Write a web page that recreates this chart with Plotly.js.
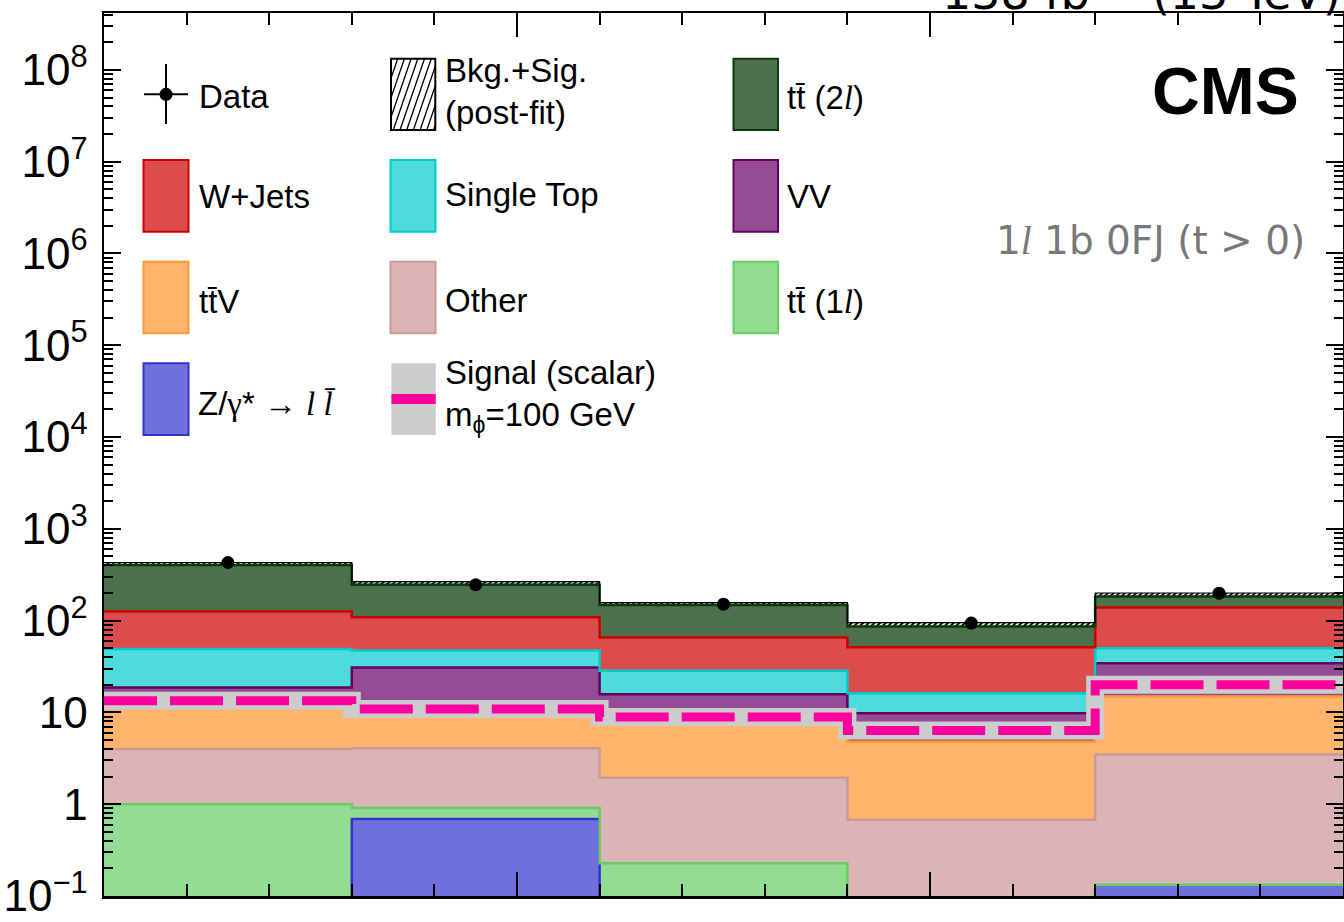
<!DOCTYPE html>
<html><head><meta charset="utf-8">
<script src="https://cdn.plot.ly/plotly-3.0.1.min.js"></script>
<style>html,body{margin:0;padding:0;background:#fff;} #chart{width:1344px;height:922px;}</style>
</head><body><div id="chart"></div>
<script>
// ---- data ----
const binEdges   = [0, 1, 2, 3, 4, 5];
const binCenters = [0.5, 1.5, 2.5, 3.5, 4.5];
const dataObs    = [430, 246, 151, 94, 199];
const dataErr    = [21, 16, 12, 10, 14];
const zGamma     = [0, 0.69, 0, 0, 0.133];
const ttbar1l    = [1.0, 0.22, 0.228, 0, 0];
const other      = [3.0, 3.17, 1.72, 0.676, 3.35];
const ttV        = [7.0, 5.42, 5.55, 4.12, 11.4];
const vv         = [7.7, 21.3, 8.3, 5.0, 19.5];
const singleTop  = [30.3, 16.4, 12.6, 6.4, 15.7];
const wJets      = [77, 61.8, 37.1, 35.2, 88.9];
const ttbar2l    = [279, 137, 82.5, 34.9, 44];
const bkgSigTop  = [430, 266, 157, 95, 200];
const signal     = [13.4, 10.9, 8.9, 6.35, 20];
const yTickVals  = [0.1, 1, 10, 100, 1e3, 1e4, 1e5, 1e6, 1e7, 1e8];
const yTickText  = ['10<sup>\u22121</sup>', '1', '10', '10<sup>2</sup>', '10<sup>3</sup>', '10<sup>4</sup>',
                    '10<sup>5</sup>', '10<sup>6</sup>', '10<sup>7</sup>', '10<sup>8</sup>'];

// ---- styles ----
const stack = [
  {vals: zGamma,    fill: '#7070dc', line: '#3333cc'},
  {vals: ttbar1l,   fill: '#94dc94', line: '#66cc66'},
  {vals: other,     fill: '#dbb5b5', line: '#cc9999'},
  {vals: ttV,       fill: '#ffb46b', line: '#ff9933'},
  {vals: vv,        fill: '#944c94', line: '#660066'},
  {vals: singleTop, fill: '#4ddbdb', line: '#00cccc'},
  {vals: wJets,     fill: '#dd4c4c', line: '#cc0000'},
  {vals: ttbar2l,   fill: '#4d714d', line: '#0b3b0b'}
];
const FLOOR = 1e-3;
const step = arr => { const a = arr.map(v => Math.max(v, FLOOR)); a.push(a[a.length - 1]); return a; };

const traces = [];
traces.push({x: binEdges, y: step([0,0,0,0,0]), mode: 'lines', line: {width: 0, shape: 'hv'}, hoverinfo: 'skip'});
let cum = [0, 0, 0, 0, 0];
stack.forEach(s => {
  cum = cum.map((c, i) => c + s.vals[i]);
  traces.push({x: binEdges, y: step(cum), mode: 'lines', fill: 'tonexty', fillcolor: s.fill,
               line: {color: s.line, width: 2.5, shape: 'hv'}, hoverinfo: 'skip'});
});
traces.push({x: binEdges, y: step(bkgSigTop), mode: 'lines', fill: 'tonexty',
             fillpattern: {shape: '/', fgcolor: '#000', bgcolor: '#fff', size: 4, solidity: 0.5},
             line: {color: '#000', width: 1.2, shape: 'hv'}, hoverinfo: 'skip'});
traces.push({x: binEdges, y: step(signal), mode: 'lines', line: {color: '#cccccc', width: 18, shape: 'hv'}, hoverinfo: 'skip'});
traces.push({x: binEdges, y: step(signal), mode: 'lines', line: {color: '#ff00a0', width: 9, shape: 'hv', dash: '53px,13px'}, hoverinfo: 'skip'});
traces.push({x: binCenters, y: dataObs, mode: 'markers', marker: {color: '#000', size: 13},
             error_y: {type: 'data', array: dataErr, color: '#000', thickness: 2, width: 0}});

// minor y ticks
const minorVals = [];
for (let d = -1; d <= 8; d++) for (let k = 2; k <= 9; k++) minorVals.push(k * Math.pow(10, d));

// ---- pixel -> paper helpers (legend decoration) ----
const PL = 104, PR = 1343, PT = 13, PB = 896;
const px = x => (x - PL) / (PR - PL);
const py = y => (PB - y) / (PB - PT);
const rect = (x0, y0, x1, y1, fill, line, lw) => ({type: 'rect', xref: 'paper', yref: 'paper',
  x0: px(x0), x1: px(x1), y0: py(y1), y1: py(y0), fillcolor: fill,
  line: {color: line || fill, width: line ? (lw || 2) : 0}});
const seg = (x0, y0, x1, y1, w) => ({type: 'line', xref: 'paper', yref: 'paper',
  x0: px(x0), x1: px(x1), y0: py(y0), y1: py(y1), line: {color: '#000', width: w || 2}});

const shapes = [];
// Data glyph
shapes.push(seg(144, 94.3, 188, 94.3), seg(166, 64, 166, 124));
shapes.push({type: 'circle', xref: 'paper', yref: 'paper', x0: px(159.5), x1: px(172.5), y0: py(100.8), y1: py(87.8),
             fillcolor: '#000', line: {color: '#000', width: 0}});
// hatch glyph
shapes.push(rect(391, 58.7, 435.3, 130, '#fff', '#000', 2));
(function () {
  const L0 = 391, R0 = 435.3, T0 = 58.7, B0 = 130, DX = 24.5;
  let p = '';
  for (let x0 = L0 - DX; x0 < R0; x0 += 6.7) {
    const t0 = Math.max(0, (L0 - x0) / DX), t1 = Math.min(1, (R0 - x0) / DX);
    if (t1 <= t0) continue;
    const xa = x0 + DX * t0, ya = B0 - (B0 - T0) * t0, xb = x0 + DX * t1, yb = B0 - (B0 - T0) * t1;
    p += `M${px(xa)},${py(ya)} L${px(xb)},${py(yb)} `;
  }
  shapes.push({type: 'path', xref: 'paper', yref: 'paper', path: p, line: {color: '#000', width: 1.3}});
})();
// colour boxes
const C1 = [143.5, 188.5], C2 = [390.5, 435.5], C3 = [733.5, 778];
const R2 = [160, 231.7], R3 = [261.7, 333.3], R4 = [363.3, 435], R1 = [58.7, 130];
shapes.push(rect(C3[0], R1[0], C3[1], R1[1], '#4d714d', '#0b3b0b'));
shapes.push(rect(C1[0], R2[0], C1[1], R2[1], '#dd4c4c', '#cc0000'));
shapes.push(rect(C2[0], R2[0], C2[1], R2[1], '#4ddbdb', '#00cccc'));
shapes.push(rect(C3[0], R2[0], C3[1], R2[1], '#944c94', '#660066'));
shapes.push(rect(C1[0], R3[0], C1[1], R3[1], '#ffb46b', '#ff9933'));
shapes.push(rect(C2[0], R3[0], C2[1], R3[1], '#dbb5b5', '#cc9999'));
shapes.push(rect(C3[0], R3[0], C3[1], R3[1], '#94dc94', '#66cc66'));
shapes.push(rect(C1[0], R4[0], C1[1], R4[1], '#7070dc', '#3333cc'));
shapes.push(rect(391.4, 363.3, 435.7, 435, '#cccccc'));
shapes.push(rect(391.4, 394, 435.7, 404, '#ff00a0'));

const F = 'Liberation Sans, Arial, sans-serif';
const SERIF = '<span style="font-family:Liberation Serif">';
const ann = (x, y, text, size, opts) => Object.assign({xref: 'paper', yref: 'paper', x: px(x), y: py(y), text: text,
  showarrow: false, xanchor: 'left', yanchor: 'middle', font: {family: F, size: size || 33, color: '#000'}}, opts || {});
const tt = 'tt\u0304';
const annotations = [
  ann(197, 96, 'Data'),
  ann(443, 71, 'Bkg.+Sig.'),
  ann(443, 112, '(post-fit)'),
  ann(785, 97, tt + ' (2' + SERIF + '<i>l</i></span>)'),
  ann(196.5, 196, 'W+Jets'),
  ann(443, 194, 'Single Top'),
  ann(785, 197, 'VV'),
  ann(196.5, 302, tt + 'V'),
  ann(443, 301, 'Other'),
  ann(785, 302, tt + ' (1' + SERIF + '<i>l</i></span>)'),
  ann(196, 403, 'Z/' + SERIF + '\u03b3</span>* \u2192 ' + SERIF + '<i>l</i> <i>l\u0304</i></span>'),
  ann(443, 373, 'Signal (scalar)'),
  ann(443, 417, 'm<sub>\u03d5</sub>=100 GeV'),
  ann(1301, 91, '<b>CMS</b>', 66, {xanchor: 'right'}),
  ann(1307, 240, '1' + SERIF + '<i>l</i></span> 1b 0FJ (t > 0)', 39, {xanchor: 'right', font: {family: 'DejaVu Sans', size: 39, color: '#787878'}}),
  ann(1343, 22, '138 fb<sup>\u22121</sup> (13 TeV)', 46, {xanchor: 'right', yanchor: 'bottom', font: {family: 'DejaVu Sans', size: 46, color: '#000'}})
];

const layout = {
  width: 1344, height: 922, margin: {l: PL, r: 1344 - PR, t: PT, b: 922 - PB},
  paper_bgcolor: '#fff', plot_bgcolor: '#fff', showlegend: false,
  xaxis: {range: [0, 5], showgrid: false, zeroline: false, showline: true, linecolor: '#000', linewidth: 2.5,
          mirror: 'allticks', ticks: 'inside', tickmode: 'array', tickvals: [0, 5/3, 10/3, 5], ticklen: 24,
          tickwidth: 2, tickcolor: '#000', showticklabels: false,
          minor: {ticks: 'inside', tickmode: 'linear', tick0: 0, dtick: 1/3, ticklen: 12, tickwidth: 2, tickcolor: '#000', showgrid: false}},
  yaxis: {type: 'log', range: [-1, 8.62], showgrid: false, zeroline: false, showline: true, linecolor: '#000', linewidth: 2.5,
          mirror: 'allticks', ticks: 'inside', tickmode: 'array', tickvals: yTickVals, ticktext: yTickText,
          ticklen: 17, tickwidth: 2, tickcolor: '#000', tickfont: {family: F, size: 44, color: '#000'}, ticklabelstandoff: 5,
          minor: {ticks: 'inside', tickmode: 'array', tickvals: minorVals, ticklen: 9, tickwidth: 2, tickcolor: '#000', showgrid: false}},
  shapes: shapes, annotations: annotations
};
Plotly.newPlot('chart', traces, layout, {staticPlot: true, displayModeBar: false});
</script></body></html>
